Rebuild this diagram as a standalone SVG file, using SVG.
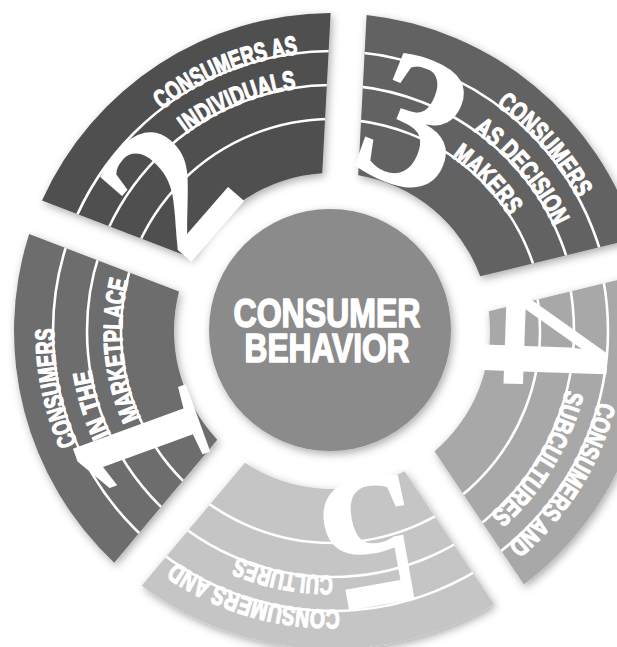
<svg xmlns="http://www.w3.org/2000/svg" xmlns:xlink="http://www.w3.org/1999/xlink" width="617" height="647" viewBox="0 0 617 647">
  <defs>
    <style>
      .seg { filter: url(#shade); }
      .ring-line { fill: none; stroke: #ffffff; stroke-width: 2.6; }
      .label { font-family: 'Liberation Sans Narrow', 'Liberation Sans', Arial, sans-serif; font-weight: bold; font-size: 26.5px; fill: #ffffff; stroke: #ffffff; stroke-width: 1.3px; stroke-linejoin: round; }
      .num { font-family: 'Liberation Serif', 'DejaVu Serif', serif; font-weight: bold; font-size: 194px; fill: #ffffff; text-anchor: middle; }
      .hub-text { font-family: 'Liberation Sans Narrow', 'Liberation Sans', Arial, sans-serif; font-weight: bold; font-size: 40px; fill: #ffffff; stroke: #ffffff; stroke-width: 1.6px; stroke-linejoin: round; text-anchor: middle; }
    </style>
    <filter id="shade" x="-15%" y="-15%" width="130%" height="130%">
      <feDropShadow dx="2" dy="3" stdDeviation="4" flood-color="#000000" flood-opacity="0.33"/>
    </filter>

    <!-- ring segment outlines (centre 332,331; radii 158..318) -->
    <path id="s1" d="M114.18,562.69 A318,318 0 0 1 29.15,234.04 L179.0,291.55 A158,158 0 0 0 217.30,439.67 Z"/>
    <path id="s2" d="M42.03,200.41 A318,318 0 0 1 330.64,13.0 L322.24,173.30 A158,158 0 0 0 191.90,257.94 Z"/>
    <path id="s3" d="M366.59,14.89 A318,318 0 0 1 636.19,238.30 L480.25,276.34 A158,158 0 0 0 358.19,175.19 Z"/>
    <path id="s4" d="M644.72,273.30 A318,318 0 0 1 523.96,584.53 L434.48,451.26 A158,158 0 0 0 488.77,311.31 Z"/>
    <path id="s5" d="M494.15,604.55 A318,318 0 0 1 141.69,585.77 L244.89,462.82 A158,158 0 0 0 404.62,471.32 Z"/>

    <clipPath id="c1"><use xlink:href="#s1"/></clipPath>
    <clipPath id="c2"><use xlink:href="#s2"/></clipPath>
    <clipPath id="c3"><use xlink:href="#s3"/></clipPath>
    <clipPath id="c4"><use xlink:href="#s4"/></clipPath>
    <clipPath id="c5"><use xlink:href="#s5"/></clipPath>

    <!-- three concentric guide lines shared by every segment -->
    <g id="rings">
      <circle class="ring-line" cx="332" cy="331" r="212"/>
      <circle class="ring-line" cx="332" cy="331" r="246"/>
      <circle class="ring-line" cx="332" cy="331" r="280"/>
    </g>

    <!-- clockwise baselines for the curved labels -->
    <path id="t1a" d="M243.93,595.74 A279,279 0 0 1 146.76,122.36"/>
    <path id="t1b" d="M276.89,569.72 A245,245 0 0 1 152.82,163.91"/>
    <path id="t1c" d="M243.50,522.54 A211,211 0 0 1 210.37,158.58"/>
    <path id="t2a" d="M55.52,293.62 A279,279 0 0 1 502.63,110.26"/>
    <path id="t2b" d="M89.15,298.60 A245,245 0 0 1 481.38,136.81"/>
    <path id="t3a" d="M277.81,57.31 A279,279 0 0 1 596.12,420.91"/>
    <path id="t3b" d="M289.46,89.72 A245,245 0 0 1 562.22,414.79"/>
    <path id="t3c" d="M280.06,126.49 A211,211 0 0 1 535.08,388.27"/>
    <path id="t4a" d="M575.02,201.31 A279,279 0 0 1 316.80,609.77"/>
    <path id="t4b" d="M542.70,212.97 A245,245 0 0 1 322.87,575.95"/>
    <path id="t5a" d="M524.79,532.68 A279,279 0 0 1 60.94,397.08"/>
    <path id="t5b" d="M516.15,492.59 A245,245 0 0 1 100.00,409.75"/>
  </defs>

  <rect width="617" height="647" fill="#ffffff"/>

  <g id="segment-1">
    <use xlink:href="#s1" class="seg" fill="#6d6d6d"/>
    <g clip-path="url(#c1)"><use xlink:href="#rings" transform="translate(1,0)"/></g>
    <text class="num" x="0" y="66" transform="translate(137,443) rotate(-110)">1</text>
    <g transform="translate(1,0)">
      <text class="label"><textPath xlink:href="#t1a" startOffset="50%" text-anchor="middle" textLength="118" lengthAdjust="spacingAndGlyphs">CONSUMERS</textPath></text>
      <text class="label"><textPath xlink:href="#t1b" startOffset="50%" text-anchor="middle" textLength="68" lengthAdjust="spacingAndGlyphs">IN THE</textPath></text>
      <text class="label"><textPath xlink:href="#t1c" startOffset="50%" text-anchor="middle" textLength="141" lengthAdjust="spacingAndGlyphs">MARKETPLACE</textPath></text>
    </g>
  </g>

  <g id="segment-2">
    <use xlink:href="#s2" class="seg" fill="#4f4f4f"/>
    <g clip-path="url(#c2)"><use xlink:href="#rings"/></g>
    <text class="num" x="0" y="66" transform="translate(168,188) rotate(-49)">2</text>
    <text class="label"><textPath xlink:href="#t2a" startOffset="50%" text-anchor="middle" textLength="149" lengthAdjust="spacingAndGlyphs">CONSUMERS AS</textPath></text>
    <text class="label"><textPath xlink:href="#t2b" startOffset="50%" text-anchor="middle" textLength="120" lengthAdjust="spacingAndGlyphs">INDIVIDUALS</textPath></text>
  </g>

  <g id="segment-3">
    <use xlink:href="#s3" class="seg" fill="#626262"/>
    <g clip-path="url(#c3)"><use xlink:href="#rings"/></g>
    <text class="num" x="0" y="66" transform="translate(416,121) rotate(22)">3</text>
    <text class="label"><textPath xlink:href="#t3a" startOffset="50%" text-anchor="middle" textLength="125" lengthAdjust="spacingAndGlyphs">CONSUMERS</textPath></text>
    <text class="label"><textPath xlink:href="#t3b" startOffset="50%" text-anchor="middle" textLength="127" lengthAdjust="spacingAndGlyphs">AS DECISION</textPath></text>
    <text class="label"><textPath xlink:href="#t3c" startOffset="50%" text-anchor="middle" textLength="83" lengthAdjust="spacingAndGlyphs">MAKERS</textPath></text>
  </g>

  <g id="segment-4">
    <use xlink:href="#s4" class="seg" fill="#a8a8a8"/>
    <g clip-path="url(#c4)"><use xlink:href="#rings" transform="translate(-4,0)"/></g>
    <text class="num" x="0" y="66" transform="translate(546,340) rotate(92)">4</text>
    <text class="label"><textPath xlink:href="#t4a" startOffset="50%" text-anchor="middle" textLength="172" lengthAdjust="spacingAndGlyphs">CONSUMERS AND</textPath></text>
    <text class="label"><textPath xlink:href="#t4b" startOffset="50%" text-anchor="middle" textLength="148" lengthAdjust="spacingAndGlyphs">SUBCULTURES</textPath></text>
  </g>

  <g id="segment-5">
    <use xlink:href="#s5" class="seg" fill="#c5c5c5"/>
    <g clip-path="url(#c5)"><use xlink:href="#rings"/></g>
    <text class="num" x="0" y="66" transform="translate(370,545) rotate(170)">5</text>
    <text class="label"><textPath xlink:href="#t5a" startOffset="50%" text-anchor="middle" textLength="174" lengthAdjust="spacingAndGlyphs">CONSUMERS AND</textPath></text>
    <text class="label"><textPath xlink:href="#t5b" startOffset="50%" text-anchor="middle" textLength="98" lengthAdjust="spacingAndGlyphs">CULTURES</textPath></text>
  </g>

  <g id="hub">
    <circle cx="330" cy="330" r="121" fill="#8b8b8b" filter="url(#shade)"/>
    <text class="hub-text" x="327" y="327" textLength="187" lengthAdjust="spacingAndGlyphs">CONSUMER</text>
    <text class="hub-text" x="327" y="362" textLength="165" lengthAdjust="spacingAndGlyphs">BEHAVIOR</text>
  </g>
</svg>
